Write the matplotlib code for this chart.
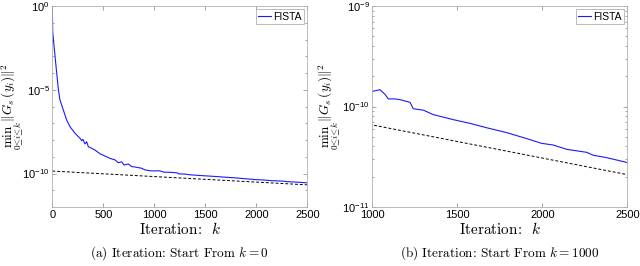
import numpy as np
import matplotlib
matplotlib.use("Agg")
import matplotlib.pyplot as plt
from matplotlib.ticker import FixedLocator, NullFormatter

plt.rcParams['font.family'] = ['Liberation Sans', 'DejaVu Sans']
plt.rcParams['mathtext.fontset'] = 'custom'
plt.rcParams['mathtext.rm'] = 'Liberation Sans'
plt.rcParams['mathtext.it'] = 'Liberation Sans:italic'

# FISTA: min_{0<=i<=k} ||G_s(y_i)||^2
k_fista = [0, 4, 11, 27, 43, 60, 75, 108, 141, 174, 223, 272, 288, 300, 321,
           337, 353, 386, 419, 468, 517, 566, 615, 647, 680, 703, 745, 778, 827,
           876, 909, 960, 1006, 1045, 1075, 1094, 1133, 1163, 1222, 1241, 1300,
           1359, 1476, 1574, 1672, 1790, 1907, 1996, 2064, 2143, 2261, 2300,
           2378, 2500]
g_fista = [1e0, 3e-2, 1e-2, 1e-3, 1e-4, 1e-5, 2.45e-6, 6.2e-7,
           1.55e-7, 6.2e-8, 2.5e-8, 1.26e-8, 9.1e-9, 1.1e-8, 5.8e-9, 7.9e-9,
           4e-9, 3.2e-9, 2.5e-9, 1.5e-9, 1.1e-9, 8e-10, 6.5e-10, 4.4e-10,
           5e-10, 3.2e-10, 3.7e-10, 2.6e-10, 2.35e-10, 2.05e-10, 1.65e-10,
           1.45e-10, 1.42e-10, 1.47e-10, 1.32e-10, 1.19e-10, 1.19e-10,
           1.17e-10, 1.1e-10, 9.5e-11, 9.2e-11, 8.3e-11, 7.4e-11, 6.8e-11,
           6.15e-11, 5.5e-11, 4.8e-11, 4.3e-11, 4.14e-11, 3.75e-11, 3.5e-11,
           3.27e-11, 3.1e-11, 2.77e-11]

# reference rate (dashed)
k_ref = [0, 2500]
g_ref = [1.4e-10, 2.1e-11]

panels = [
    dict(xlim=(0, 2500), xticks=[0, 500, 1000, 1500, 2000, 2500],
         ylim=(1e-12, 1e0), yticks=[1e-10, 1e-5, 1e0],
         ylabels=[r'$10^{-10}$', r'$10^{-5}$', r'$10^{0}$'],
         yminor=[10.0 ** e for e in range(-12, 1)],
         caption=r'(a) Iteration: Start From $k=0$'),
    dict(xlim=(1000, 2500), xticks=[1000, 1500, 2000, 2500],
         ylim=(1e-11, 1e-9), yticks=[1e-11, 1e-10, 1e-9],
         ylabels=[r'$10^{-11}$', r'$10^{-10}$', r'$10^{-9}$'],
         yminor=[m * 10.0 ** e for e in (-11, -10) for m in range(2, 10)],
         caption=r'(b) Iteration: Start From $k=1000$'),
]

fig = plt.figure(figsize=(6.4, 2.66), dpi=100)
lefts = [52.3, 372.3]
ylab_x = [26, 343]
edge = '#b0b0b0'
cm = dict(family='cmr10', math_fontfamily='cm')

for p, x0, yl in zip(panels, lefts, ylab_x):
    ax = fig.add_axes([x0 / 640, 59 / 266, 255 / 640, 201 / 266])
    ax.semilogy(k_fista, g_fista, color='#1a1aff', lw=0.8, label='FISTA')
    ax.semilogy(k_ref, g_ref, color='black', lw=0.7, ls=(0, (3, 2)))
    ax.set_xlim(*p['xlim'])
    ax.set_ylim(*p['ylim'])
    ax.set_xticks(p['xticks'])
    ax.yaxis.set_major_locator(FixedLocator(p['yticks']))
    ax.yaxis.set_minor_locator(FixedLocator(p['yminor']))
    ax.yaxis.set_minor_formatter(NullFormatter())
    ax.set_yticklabels(p['ylabels'])
    ax.tick_params(which='both', direction='in', top=True, right=True,
                   labelsize=8, color='#808080', width=0.5, pad=2)
    ax.tick_params(which='major', length=3)
    ax.tick_params(which='minor', length=1.6)
    for s in ax.spines.values():
        s.set_color(edge)
        s.set_linewidth(0.6)
    ax.set_xlabel(r'Iteration:  $k$', fontsize=11, labelpad=1, **cm)
    ax.set_ylabel(r'$\min_{0\leq i\leq k}\,\|G_s(y_i)\|^2$', fontsize=9.5,
                  math_fontfamily='cm')
    ax.yaxis.set_label_coords((yl - x0) / 255, 0.5)
    ax.text(0.5, -0.229, p['caption'], transform=ax.transAxes, ha='center',
            va='center', fontsize=9.5, **cm)
    leg = ax.legend(loc='upper right', fontsize=7.5, handlelength=1.2,
                    handletextpad=0.2, borderpad=0.25, borderaxespad=0.3,
                    fancybox=False, framealpha=1)
    leg.get_frame().set_edgecolor(edge)
    leg.get_frame().set_linewidth(0.6)

fig.savefig('out.png', dpi=100)
